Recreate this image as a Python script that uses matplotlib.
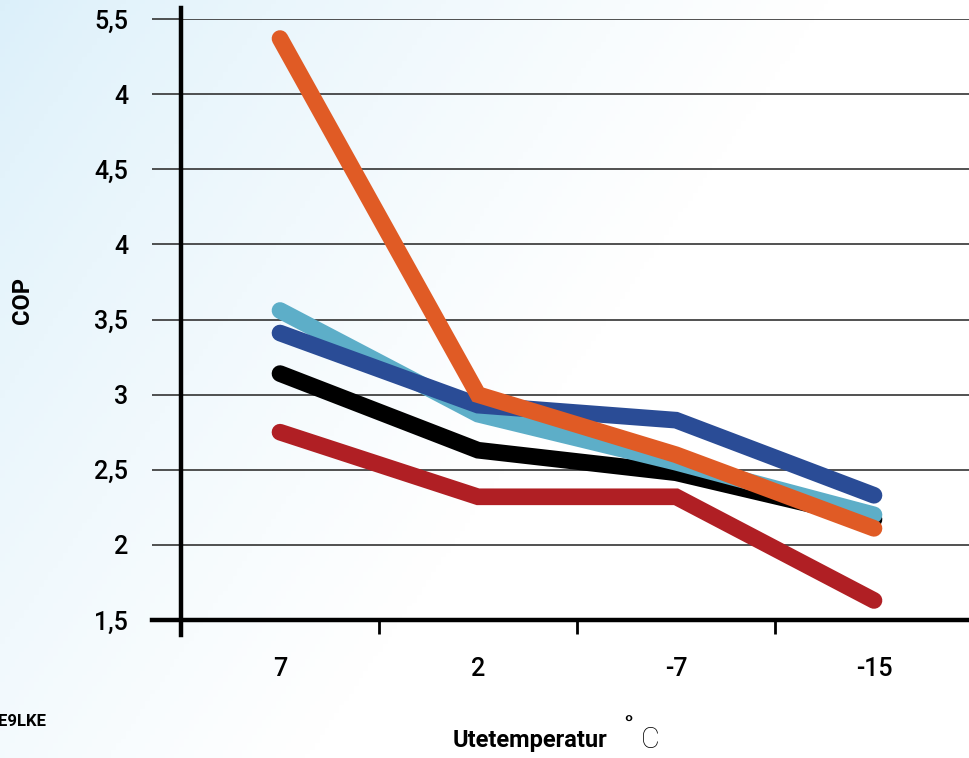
import numpy as np
import matplotlib.pyplot as plt

# data
temps = ['7', '2', '-7', '-15']
orange = [5.37, 3.00, 2.60, 2.11]
light_blue = [3.56, 2.87, 2.55, 2.20]
dark_blue = [3.41, 2.93, 2.83, 2.33]
black = [3.14, 2.63, 2.48, 2.17]
red = [2.75, 2.32, 2.32, 1.63]

yticks = [1.5, 2, 2.5, 3, 3.5, 4, 4.5, 5, 5.5]
ytick_labels = ['1,5', '2', '2,5', '3', '3,5', '4', '4,5', '4', '5,5']

plt.rcParams['font.family'] = ['Roboto', 'DejaVu Sans']

W, H = 969, 758
fig = plt.figure(figsize=(W / 100, H / 100), dpi=100)

# diagonal gradient background, light blue top-left to white bottom-right
bg = fig.add_axes([0, 0, 1, 1], zorder=-10)
gx, gy = np.meshgrid(np.linspace(0, 1, 200), np.linspace(0, 1, 200))
t = np.clip((gx * 0.65 + gy * 0.35) * 1.8, 0, 1) ** 0.8
c0 = np.array([0.86, 0.94, 0.98])
c1 = np.array([1.0, 1.0, 1.0])
img = c0[None, None, :] * (1 - t[..., None]) + c1[None, None, :] * t[..., None]
bg.imshow(img, extent=[0, 1, 0, 1], aspect='auto', origin='upper')
bg.axis('off')

left, right = 181 / W, 969 / W
bottom, top = 1 - 620 / H, 1 - 19 / H
ax = fig.add_axes([left, bottom, right - left, top - bottom])
ax.set_facecolor('none')

x = np.arange(len(temps)) + 0.5
series = [(red, '#b01f24'), (black, '#000000'), (light_blue, '#5daec8'),
          (dark_blue, '#2a4c96'), (orange, '#e05b25')]
for vals, col in series:
    ax.plot(x, vals, color=col, lw=12, solid_capstyle='round',
            solid_joinstyle='miter', zorder=3)

ax.set_xlim(0, (969 - 181) / 198)
ax.set_ylim(1.5, 5.5)

for s in ax.spines.values():
    s.set_visible(False)

# y axis: long outward ticks + grid
ax.set_yticks(yticks)
ax.set_yticklabels(ytick_labels, fontsize=18, fontweight='medium')
ax.tick_params(axis='y', length=21, width=1.2, color='#333333', pad=17)
ax.grid(axis='y', color='#333333', lw=1.2, zorder=1)

# x axis: boundary ticks, labels centered between
ax.set_xticks([0, 1, 2, 3])
ax.set_xticklabels([])
ax.set_xticks(x, minor=True)
ax.set_xticklabels(temps, minor=True, fontsize=18, fontweight='medium')
ax.tick_params(axis='x', which='major', length=10, width=2, color='black')
ax.tick_params(axis='x', which='minor', length=0, pad=27)

# heavy axis lines
ax.plot([-29 / 788, 1], [0, 0], transform=ax.transAxes, color='black',
        lw=3.2, clip_on=False, zorder=4)
ax.plot([0, 0], [-15 / 601, 1 + 11 / 601], transform=ax.transAxes,
        color='black', lw=3.2, clip_on=False, zorder=4)

fig.text(23 / W, 1 - 300 / H, 'COP', rotation=90, ha='center', va='center',
         fontsize=17, fontweight='bold')
fig.text(607 / W, 1 - 740 / H, 'Utetemperatur', ha='right', va='center',
         fontsize=17, fontweight='bold')
fig.text(628 / W, 1 - 731 / H, '˚', ha='center', va='center',
         fontsize=22, fontweight='bold')
fig.text(650 / W, 1 - 740 / H, 'C', ha='center', va='center',
         fontsize=21, fontweight='light')
fig.text(-2 / W, 1 - 722 / H, 'E9LKE', ha='left', va='center',
         fontsize=12, fontweight='bold')

fig.savefig('out.png', dpi=100)
